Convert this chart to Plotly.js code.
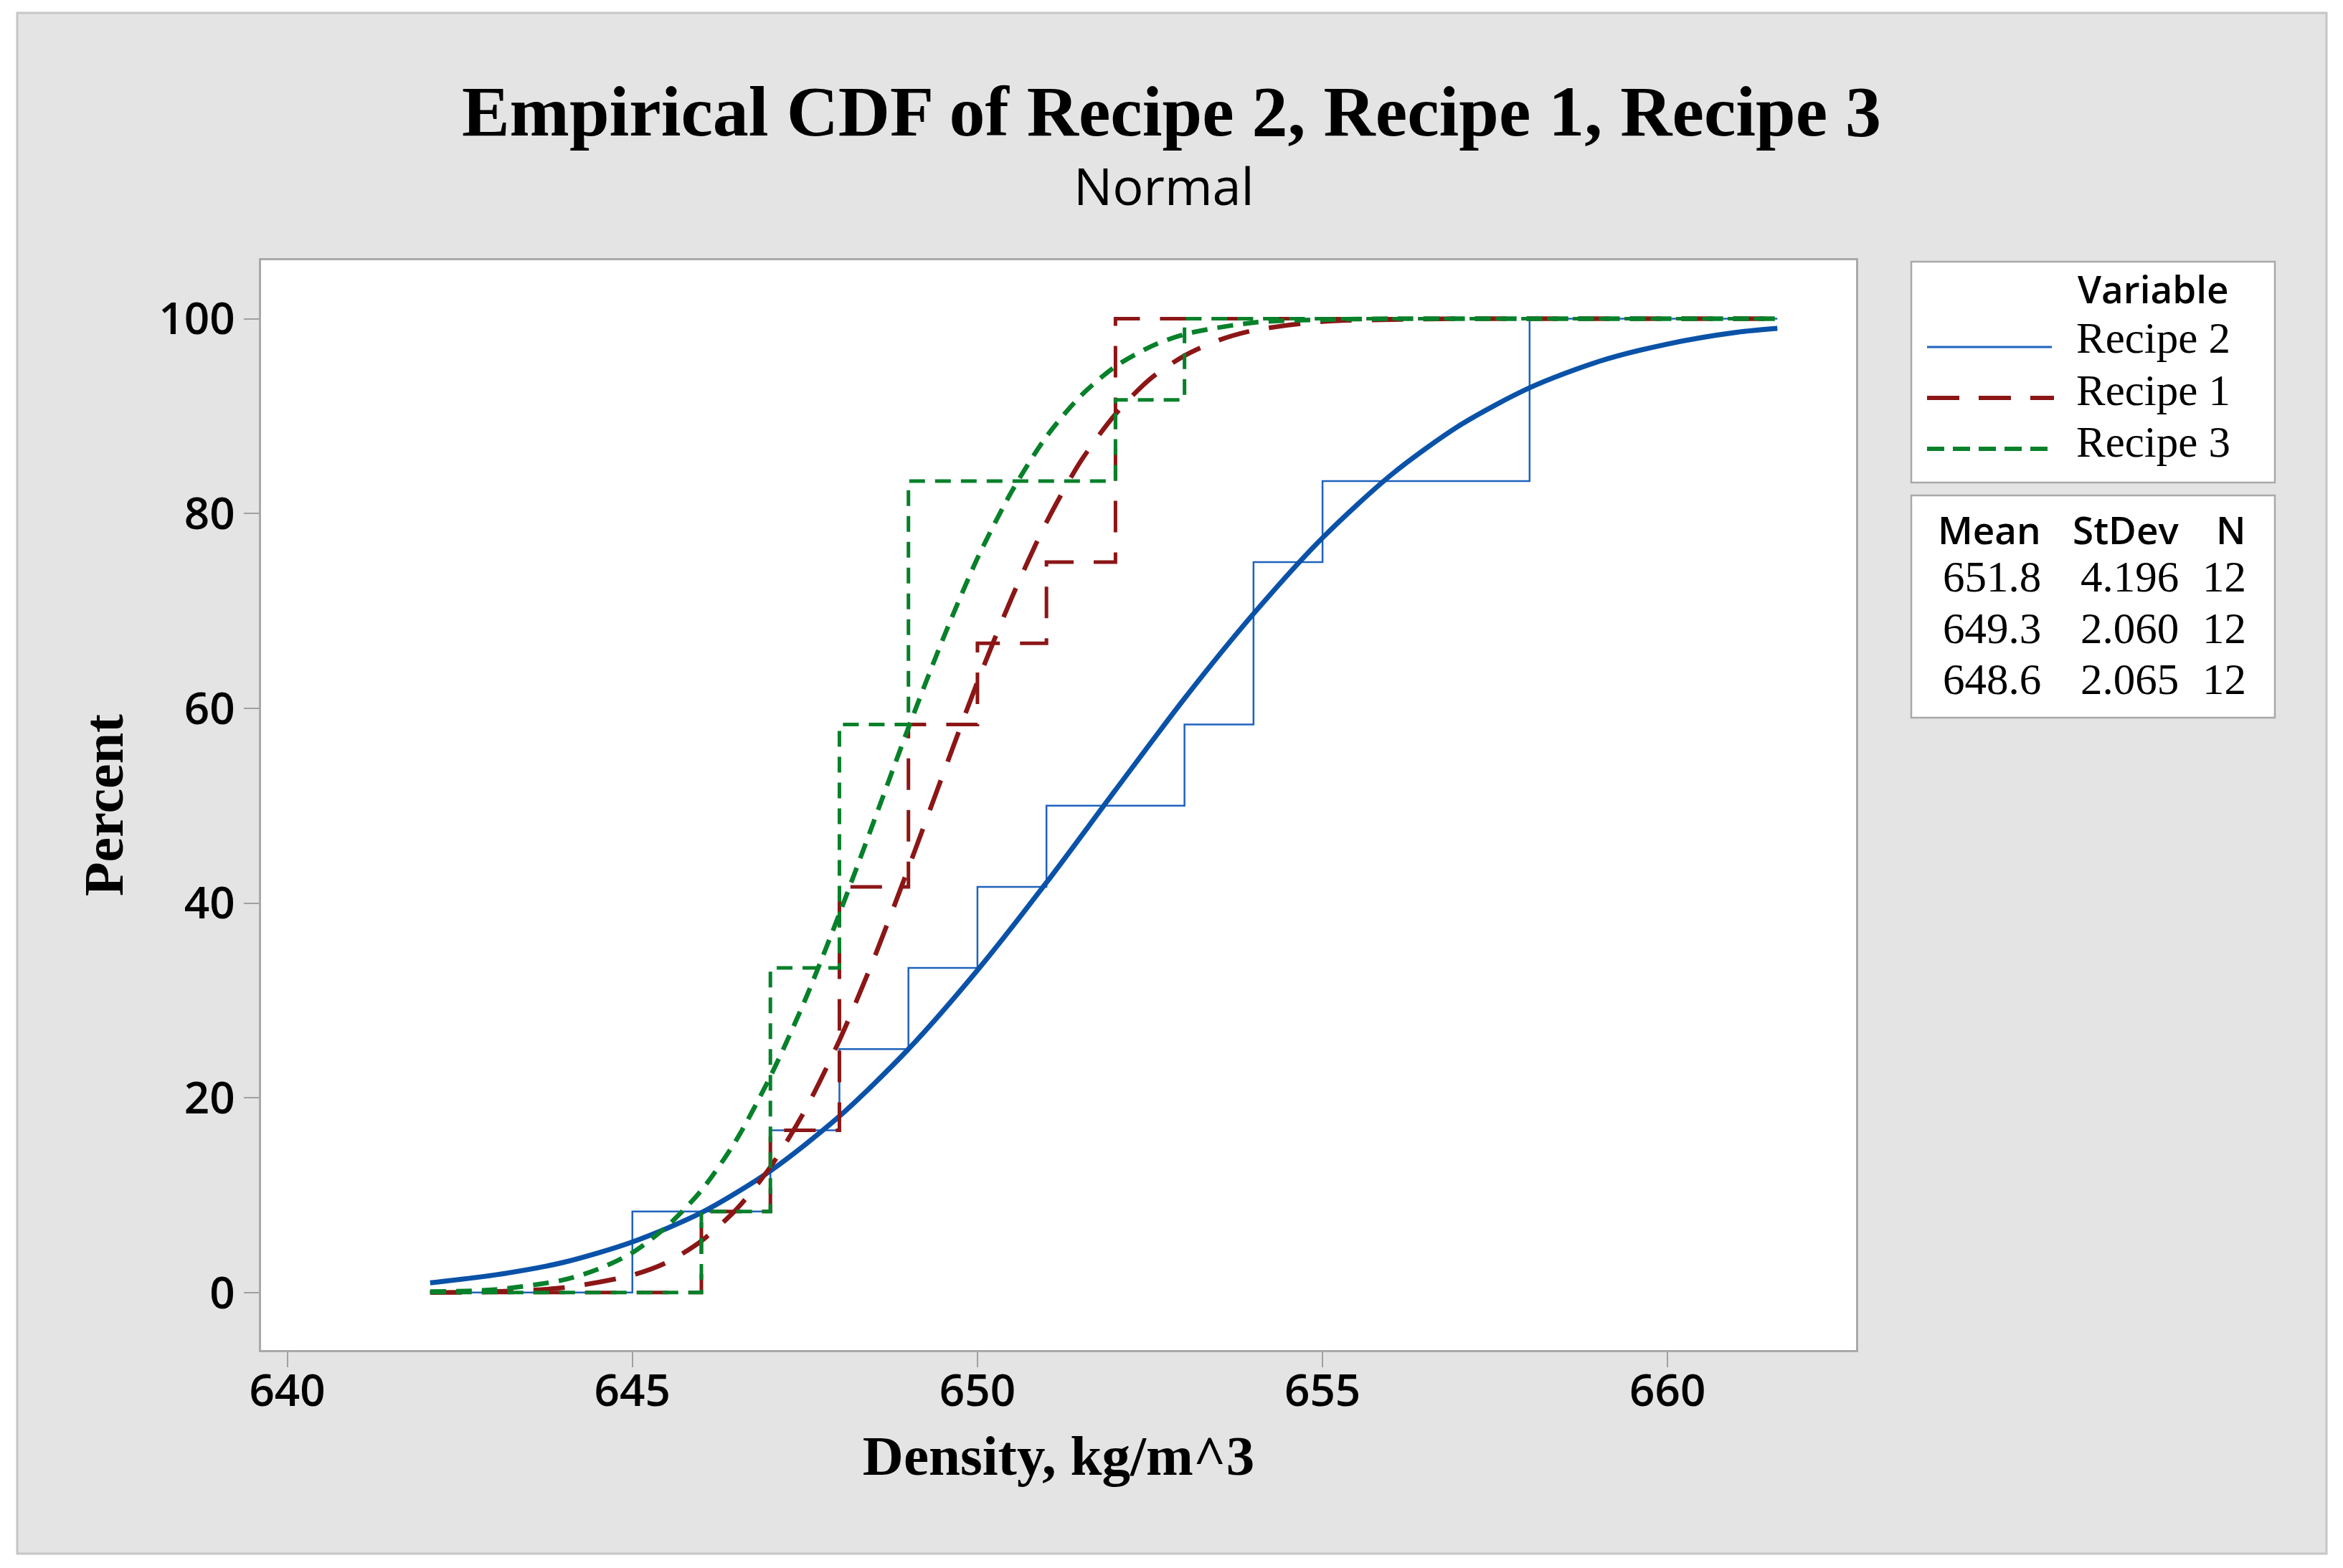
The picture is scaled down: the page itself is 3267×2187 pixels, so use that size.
<!DOCTYPE html>
<html>
<head>
<meta charset="utf-8">
<script src="https://cdn.plot.ly/plotly-3.0.1.min.js"></script>
<style>html,body{margin:0;padding:0;background:#fff;}#chart{width:3267px;height:2187px;}</style>
</head>
<body>
<div id="chart"></div>
<script>
// ---------- data ----------
const recipe2 = [645, 647, 648, 649, 650, 651, 653, 654, 654, 655, 658, 658];
const recipe1 = [646, 647, 648, 648, 648, 649, 649, 650, 651, 652, 652, 652];
const recipe3 = [646, 647, 647, 647, 648, 648, 648, 649, 649, 649, 652, 653];

// fitted normal CDF curves, percent values
const fitX2 = [642.07, 643, 644, 645, 646, 647, 648, 649, 650, 651, 652, 653, 654, 655, 656, 657, 658, 659, 660, 661, 661.59];
const fitY2 = [1.0, 1.8, 3.1, 5.2, 8.2, 12.5, 18.1, 25.0, 33.1, 42.1, 51.6, 61.0, 69.7, 77.5, 84.0, 89.1, 92.9, 95.6, 97.4, 98.6, 99.0];
const fitX1 = [642.07, 643, 644, 645, 645.5, 646, 646.5, 647, 647.5, 648, 648.5, 649, 649.5, 650, 650.5, 651, 651.5, 652, 652.5, 653, 653.5, 654, 655, 656, 657, 658, 661.59];
const fitY1 = [0.0, 0.1, 0.5, 1.8, 3.1, 5.3, 8.5, 12.9, 18.7, 25.9, 34.3, 43.6, 53.2, 62.7, 71.4, 79.1, 85.4, 90.2, 93.8, 96.2, 97.8, 98.8, 99.7, 99.9, 100, 100, 100];
const fitX3 = [642.07, 643, 644, 644.5, 645, 645.5, 646, 646.5, 647, 647.5, 648, 648.5, 649, 649.5, 650, 650.5, 651, 651.5, 652, 652.5, 653, 654, 655, 656, 657, 661.59];
const fitY3 = [0.1, 0.3, 1.3, 2.4, 4.1, 6.8, 10.5, 15.6, 22.2, 30.0, 38.9, 48.4, 58.0, 67.1, 75.4, 82.3, 87.9, 92.1, 95.1, 97.1, 98.4, 99.6, 99.9, 100, 100, 100];

const seriesNames = ['Recipe 2', 'Recipe 1', 'Recipe 3'];
const statMean = ['651.8', '649.3', '648.6'];
const statStDev = ['4.196', '2.060', '2.065'];
const statN = ['12', '12', '12'];
const lineStart = 642.07, lineEnd = 661.59;

// ---------- helpers ----------
function ecdf(vals) {
  const s = vals.slice().sort((a, b) => a - b);
  const n = s.length;
  const x = [lineStart], y = [0];
  s.forEach((v, i) => { x.push(v); y.push((i + 1) / n * 100); });
  x.push(lineEnd); y.push(100);
  return {x, y};
}
// figure pixel -> paper coordinates
const L = 364, R = 2588, T = 363, B = 1883;
const px = X => (X - L) / (R - L);
const py = Y => (B - Y) / (B - T);

const SERIF = 'Liberation Serif';
const SANS = 'Open Sans';
const BLUE_STEP = '#1f63bd', BLUE_FIT = '#0a52a8';
const RED = '#8c1616', GREEN = '#07812a';
const RED_DASH = '44px,28px', GREEN_DASH = '22px,14px';

const e2 = ecdf(recipe2), e1 = ecdf(recipe1), e3 = ecdf(recipe3);

const traces = [
  {x: e2.x, y: e2.y, mode: 'lines', line: {shape: 'hv', color: BLUE_STEP, width: 2.5}, name: seriesNames[0], showlegend: false},
  {x: fitX2, y: fitY2, mode: 'lines', line: {shape: 'spline', smoothing: 0.8, color: BLUE_FIT, width: 7}, name: seriesNames[0] + ' fit', showlegend: false},
  {x: e1.x, y: e1.y, mode: 'lines', line: {shape: 'hv', color: RED, width: 5, dash: RED_DASH}, name: seriesNames[1], showlegend: false},
  {x: fitX1, y: fitY1, mode: 'lines', line: {shape: 'spline', smoothing: 0.8, color: RED, width: 6.5, dash: RED_DASH}, name: seriesNames[1] + ' fit', showlegend: false},
  {x: e3.x, y: e3.y, mode: 'lines', line: {shape: 'hv', color: GREEN, width: 5, dash: GREEN_DASH}, name: seriesNames[2], showlegend: false},
  {x: fitX3, y: fitY3, mode: 'lines', line: {shape: 'spline', smoothing: 0.8, color: GREEN, width: 6.5, dash: GREEN_DASH}, name: seriesNames[2] + ' fit', showlegend: false}
];

const shapes = [
  // outer gray panel
  {type: 'rect', xref: 'paper', yref: 'paper', layer: 'below', x0: px(24), x1: px(3244), y0: py(2167), y1: py(18),
   fillcolor: '#e4e4e4', line: {color: '#c6c6c6', width: 3}},
  // plot area
  {type: 'rect', xref: 'paper', yref: 'paper', layer: 'below', x0: 0, x1: 1, y0: 0, y1: 1,
   fillcolor: '#ffffff', line: {width: 0}},
  // legend boxes
  {type: 'rect', xref: 'paper', yref: 'paper', x0: px(2665), x1: px(3172), y0: py(673), y1: py(365),
   fillcolor: '#ffffff', line: {color: '#a9a9a9', width: 2.5}},
  {type: 'rect', xref: 'paper', yref: 'paper', x0: px(2665), x1: px(3172), y0: py(1001), y1: py(691),
   fillcolor: '#ffffff', line: {color: '#a9a9a9', width: 2.5}},
  // legend line samples
  {type: 'line', xref: 'paper', yref: 'paper', x0: px(2687), x1: px(2861), y0: py(484), y1: py(484), line: {color: BLUE_STEP, width: 3}},
  {type: 'line', xref: 'paper', yref: 'paper', x0: px(2687), x1: px(2864), y0: py(555), y1: py(555), line: {color: RED, width: 6, dash: '45px,27px'}},
  {type: 'line', xref: 'paper', yref: 'paper', x0: px(2687), x1: px(2856), y0: py(626), y1: py(626), line: {color: GREEN, width: 6, dash: '24px,12px'}}
];

const ann = [];
function addText(text, X, Ymid, anchor, font) {
  ann.push({text: text, xref: 'paper', yref: 'paper', x: px(X), y: py(Ymid), xanchor: anchor, yanchor: 'middle',
            showarrow: false, font: font});
}
const legHead = {family: SANS, size: 53, weight: 600, color: '#000'};
const legText = {family: SERIF, size: 61, color: '#000'};
// subtitle
addText('Normal', 1623, 258, 'center', {family: SANS, size: 72, color: '#000'});
// legend
addText('Variable', 2895, 403, 'left', legHead);
const legY = [472, 544, 616];
seriesNames.forEach((n, i) => addText(n, 2893, legY[i], 'left', legText));
// stats table
addText('Mean', 2848, 738, 'right', legHead);
addText('StDev', 3040, 738, 'right', legHead);
addText('N', 3134, 738, 'right', legHead);
const rowY = [804, 876, 948];
statMean.forEach((v, i) => {
  addText(v, 2848, rowY[i], 'right', legText);
  addText(statStDev[i], 3040, rowY[i], 'right', legText);
  addText(statN[i], 3134, rowY[i], 'right', legText);
});

const tickFont = {family: SANS, size: 62, weight: 600, color: '#000'};
const layout = {
  width: 3267, height: 2187,
  paper_bgcolor: '#ffffff', plot_bgcolor: 'rgba(0,0,0,0)',
  margin: {l: L, r: 3267 - R, t: T, b: 2187 - B, pad: 0},
  showlegend: false,
  hovermode: false,
  title: {text: 'Empirical CDF of Recipe 2, Recipe 1, Recipe 3', x: 0.5, xref: 'container', xanchor: 'center',
          y: 1 - 154 / 2187, yref: 'container', yanchor: 'middle',
          font: {family: SERIF, size: 100, weight: 700, color: '#000'}},
  xaxis: {range: [639.62, 662.73], tickmode: 'linear', tick0: 640, dtick: 5, ticks: 'outside', ticklen: 21, tickwidth: 2,
          tickcolor: '#a0a0a0', showline: true, mirror: true, linecolor: '#a9a9a9', linewidth: 3,
          showgrid: false, zeroline: false, tickfont: tickFont, ticklabelstandoff: -20,
          title: {text: 'Density, kg/m^3', standoff: 24, font: {family: SERIF, size: 79, weight: 700, color: '#000'}}},
  yaxis: {range: [-5.9, 106.0], tickmode: 'linear', tick0: 0, dtick: 20, ticks: 'outside', ticklen: 21, tickwidth: 2,
          tickcolor: '#a0a0a0', showline: true, mirror: true, linecolor: '#a9a9a9', linewidth: 3,
          showgrid: false, zeroline: false, tickfont: tickFont,
          title: {text: 'Percent', standoff: 24, font: {family: SERIF, size: 78, weight: 700, color: '#000'}}},
  shapes: shapes,
  annotations: ann
};

Plotly.newPlot('chart', traces, layout, {staticPlot: true, displayModeBar: false});
</script>
</body>
</html>
